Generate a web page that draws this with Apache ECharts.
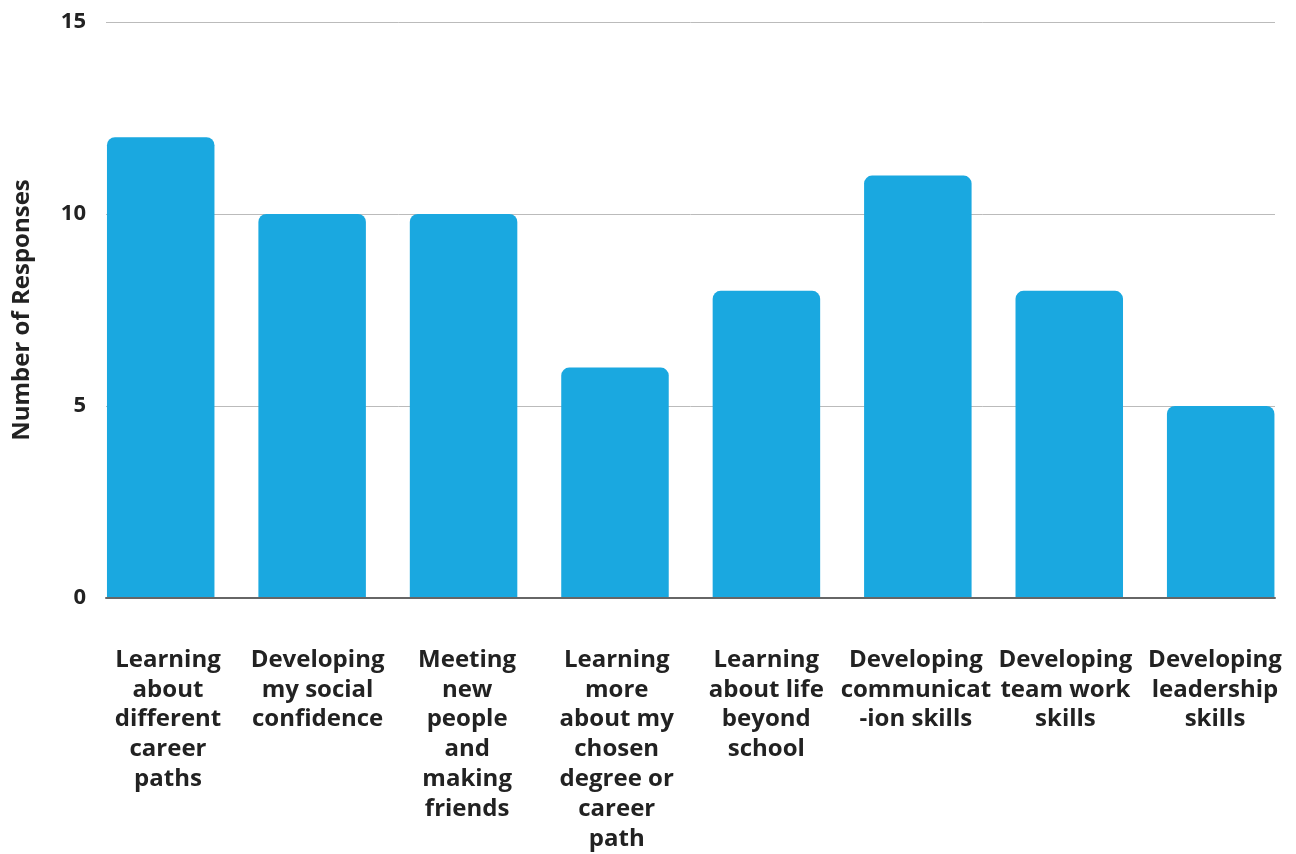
<!DOCTYPE html>
<html>
<head>
<meta charset="utf-8">
<script src="https://cdn.jsdelivr.net/npm/echarts@6/dist/echarts.min.js"></script>
<style>
html,body{margin:0;padding:0;background:#fff;}
#chart{width:1296px;height:854px;}
</style>
</head>
<body>
<div id="chart"></div>
<script>
const categories = [
  "Learning\nabout\ndifferent\ncareer\npaths",
  "Developing\nmy social\nconfidence",
  "Meeting\nnew\npeople\nand\nmaking\nfriends",
  "Learning\nmore\nabout my\nchosen\ndegree or\ncareer\npath",
  "Learning\nabout life\nbeyond\nschool",
  "Developing\ncommunicat\n-ion skills",
  "Developing\nteam work\nskills",
  "Developing\nleadership\nskills"
];
const responses = [12, 10, 10, 6, 8, 11, 8, 5];
const yTicks = { min: 0, max: 15, interval: 5 };
const yTitle = "Number of Responses";

const FONT = "Open Sans";
const chart = echarts.init(document.getElementById('chart'), null, {renderer: 'canvas'});
chart.setOption({
  animation: false,
  backgroundColor: '#ffffff',
  grid: [
    {left: 85, width: 1211.4, top: 22, bottom: 256, containLabel: false, outerBoundsMode: 'none'},
    {left: 106, right: 21, top: 22, bottom: 256, containLabel: false, outerBoundsMode: 'none'},
    {left: 93.2, width: 1196.6, top: 22, bottom: 256, containLabel: false, outerBoundsMode: 'none'}
  ],
  xAxis: [
    {
      gridIndex: 0, type: 'category', data: categories, show: false
    },
    {
      gridIndex: 1, type: 'category', data: categories, z: 5,
      axisLine: {show: true, lineStyle: {color: '#666', width: 2}},
      axisTick: {show: false}, axisLabel: {show: false}
    },
    {
      gridIndex: 2, type: 'category', data: categories,
      axisLine: {show: false}, axisTick: {show: false},
      axisLabel: {
        interval: 0, margin: 47, color: '#222', fontFamily: FONT,
        fontWeight: 'bold', fontSize: 24, lineHeight: 29.8, align: 'center'
      }
    }
  ],
  yAxis: [
    {gridIndex: 0, type: 'value', min: yTicks.min, max: yTicks.max, show: false},
    {
      gridIndex: 1, type: 'value', min: yTicks.min, max: yTicks.max, interval: yTicks.interval,
      axisLine: {show: false}, axisTick: {show: false},
      splitLine: {lineStyle: {color: '#bbbbbb', width: 1}},
      axisLabel: {margin: 20, color: '#222', fontFamily: FONT, fontWeight: 'bold', fontSize: 22},
      name: yTitle, nameLocation: 'middle', nameRotate: 90, nameGap: 72,
      nameTextStyle: {color: '#222', fontFamily: FONT, fontWeight: 'bold', fontSize: 24}
    },
    {gridIndex: 2, type: 'value', min: yTicks.min, max: yTicks.max, show: false}
  ],
  series: [{
    type: 'bar', xAxisIndex: 0, yAxisIndex: 0, data: responses,
    barWidth: 107.5,
    itemStyle: {color: '#1aa8e0', borderRadius: [8, 8, 0, 0]}
  }]
});
</script>
</body>
</html>
